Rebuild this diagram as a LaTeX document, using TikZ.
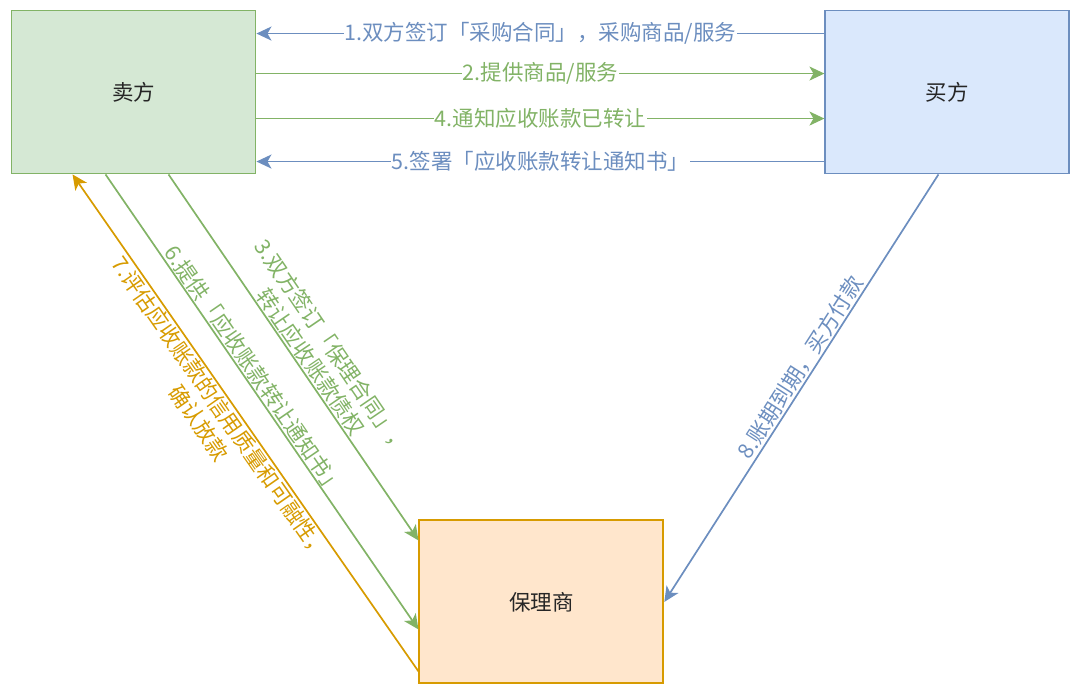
\documentclass[tikz,border=0pt]{standalone}
\usepackage{fontspec}
\setmainfont{Noto Sans CJK SC}
\usetikzlibrary{arrows.meta, positioning, calc}

\definecolor{sellerfill}{HTML}{D5E8D4}
\definecolor{sellerline}{HTML}{82B366}
\definecolor{buyerfill}{HTML}{DAE8FC}
\definecolor{buyerline}{HTML}{6C8EBF}
\definecolor{factorfill}{HTML}{FFE6CC}
\definecolor{factorline}{HTML}{D79B00}

\begin{document}
\begin{tikzpicture}[x=1pt, y=-1pt,
    every node/.style={font=\fontsize{21.5}{26}\selectfont},
    party/.style={draw, rectangle, line width=1.9pt, minimum width=244pt, minimum height=163pt, text=black!85},
    flow/.style={line width=1.7pt, -{Stealth[length=15pt, width=14pt, inset=4pt]}},
    tag/.style={midway, fill=white, inner sep=1pt}]
            \useasboundingbox (0,0) rectangle (1080,693);

            % blocks
            \node (seller) [party, draw=sellerline, fill=sellerfill] at (133.5,92) {卖方};

            \node (buyer) [party, draw=buyerline, fill=buyerfill, right=568pt of seller] {买方};

            \node (factor) [party, draw=factorline, fill=factorfill,
              below right=345pt and 162pt of seller.south east, anchor=north west] {保理商};

            % arrows between seller and buyer
            \draw[flow, buyerline] ([yshift=-24pt]buyer.north west) -- ([yshift=-24pt]seller.north east)
            node[tag, text=buyerline] {1.双方签订「采购合同」，采购商品/服务};

            \draw[flow, sellerline] ([yshift=-64pt]seller.north east) -- ([yshift=-64pt]buyer.north west)
            node[tag, text=sellerline] {2.提供商品/服务};

            \draw[flow, sellerline] ([yshift=-109pt]seller.north east) -- ([yshift=-109pt]buyer.north west)
            node[tag, text=sellerline] {4.通知应收账款已转让};

            \draw[flow, buyerline] ([yshift=-152pt]buyer.north west) -- ([yshift=-152pt]seller.north east)
            node[tag, text=buyerline] {5.签署「应收账款转让通知书」};

            % arrows to and from the factor
            \draw[flow, sellerline] ($(seller.south west)+(158,0)$) -- ($(factor.north west)+(0,21)$)
            node[pos=0.53, sloped, above, align=center, inner sep=1pt, text=sellerline]
            {3.双方签订「保理合同」，\\转让应收账款债权};

            \draw[flow, sellerline] ($(seller.south west)+(95,0)$) -- ($(factor.north west)+(0,110)$)
            node[pos=0.445, sloped, above, inner sep=1pt, text=sellerline]
            {6.提供「应收账款转让通知书」};

            \draw[flow, factorline] ($(factor.south west)+(0,-13)$) -- ($(seller.south west)+(62,0)$)
            node[pos=0.544, sloped, below, align=center, inner sep=1pt, text=factorline]
            {7.评估应收账款的信用质量和可融性，\\确认放款};

            \draw[flow, buyerline] ($(buyer.south west)+(114,0)$) -- (factor.east)
            node[pos=0.467, sloped, above, inner sep=1pt, text=buyerline]
            {8.账期到期，买方付款};

        \end{tikzpicture}
\end{document}
